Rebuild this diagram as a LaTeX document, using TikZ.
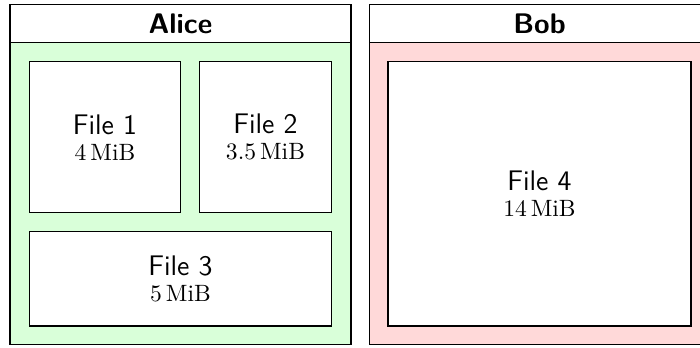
\documentclass[tikz,border=0pt]{standalone}
\usepackage{tikz}

\begin{document}
\begin{tikzpicture}[
    x=0.4237pt, y=-0.4237pt,
    every path/.style={line width=0.45pt},
    hostbody/.style={draw=black},
    hosthead/.style={draw=black, fill=white},
    hosttitle/.style={font=\large\sffamily\bfseries, inner sep=0pt},
    filebox/.style={draw=black, fill=white, inner sep=0pt, align=center,
                    font=\large\sffamily},
  ]
  \useasboundingbox (0,0) rectangle (700,347);

  % Alice: storage area and title bar
  \path[hostbody, fill=green!15] (10,42.7) rectangle (351,344.3);
  \path[hosthead] (10,4.7) rectangle (351,42.7);
  \node[hosttitle] (alice) at (180.5,23.7) {Alice};

  % Bob: storage area and title bar
  \path[hostbody, fill=red!15] (369.3,42.7) rectangle (710,344.3);
  \path[hosthead] (369.3,4.7) rectangle (710,42.7);
  \node[hosttitle] (bob) at (539.6,23.7) {Bob};

  % Files held by Alice
  \node[filebox, minimum width=151*0.4237pt, minimum height=151*0.4237pt]
    (file1) at (105,137.2) {File 1\\[-3pt]{\normalsize\rmfamily 4\,MiB}};
  \node[filebox, minimum width=132*0.4237pt, minimum height=151*0.4237pt]
    (file2) at (265.5,137.2) {File 2\\[-3pt]{\normalsize\rmfamily 3.5\,MiB}};
  \node[filebox, minimum width=302*0.4237pt, minimum height=94.3*0.4237pt]
    (file3) at (180.5,278.85) {File 3\\[-3pt]{\normalsize\rmfamily 5\,MiB}};

  % File held by Bob
  \node[filebox, minimum width=303*0.4237pt, minimum height=264.3*0.4237pt]
    (file4) at (539.5,193.85) {File 4\\[-3pt]{\normalsize\rmfamily 14\,MiB}};
\end{tikzpicture}
\end{document}
